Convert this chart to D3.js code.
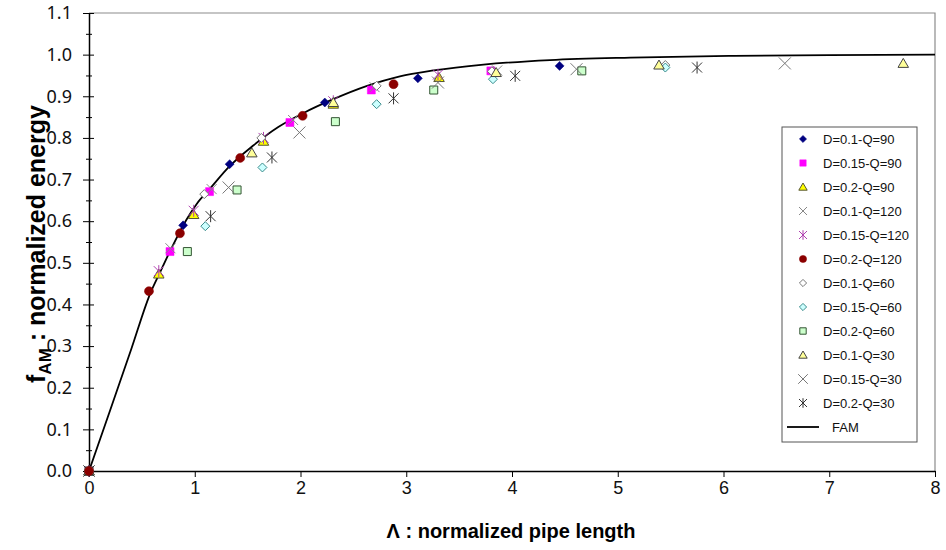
<!DOCTYPE html>
<html>
<head>
<meta charset="utf-8">
<script src="https://cdn.jsdelivr.net/npm/d3@7"></script>
<style>
  body { margin: 0; background: #fff; }
  svg { display: block; }
</style>
</head>
<body>
<script>
// measured points, [lambda, fAM]
var d01q90  = [[0,0],[0.89,0.590],[1.33,0.737],[2.23,0.885],[3.11,0.943],[4.45,0.973]];
var d015q90 = [[0,0],[0.766,0.527],[1.14,0.671],[1.90,0.837],[2.67,0.915],[3.80,0.961]];
var d02q90  = [[0,0],[0.66,0.473],[0.99,0.616],[1.65,0.792],[2.31,0.881],[3.31,0.945]];
var d01q120 = [[0,0],[0.77,0.535],[1.16,0.677],[1.93,0.843],[2.70,0.922],[3.86,0.962]];
var d015q120= [[0,0],[0.66,0.480],[0.99,0.625],[1.65,0.800],[2.31,0.888],[3.30,0.952]];
var d02q120 = [[0,0],[0.567,0.432],[0.86,0.571],[1.43,0.752],[2.02,0.853],[2.88,0.929]];
var d01q60  = [[0,0],[1.09,0.665],[1.63,0.800],[2.72,0.925],[3.81,0.960],[5.45,0.975]];
var d015q60 = [[0,0],[1.10,0.588],[1.64,0.729],[2.72,0.881],[3.82,0.941],[5.45,0.969]];
var d02q60  = [[0,0],[0.93,0.527],[1.40,0.675],[2.33,0.839],[3.26,0.915],[4.66,0.961]];
var d01q30  = [[0,0],[1.54,0.764],[2.31,0.885],[3.85,0.957],[5.39,0.975],[7.70,0.979]];
var d015q30 = [[0,0],[1.32,0.681],[1.99,0.813],[3.30,0.933],[4.61,0.965],[6.58,0.979]];
var d02q30  = [[0,0],[1.15,0.612],[1.73,0.753],[2.88,0.895],[4.03,0.949],[5.75,0.969]];

// FAM model curve
var famCurve = [[0,0],[0.2,0.146],[0.4,0.293],[0.577,0.425],[0.67,0.476],[0.77,0.530],[0.92,0.603],
  [1.02,0.642],[1.14,0.677],[1.33,0.732],[1.55,0.781],[1.79,0.826],[2.03,0.860],[2.31,0.893],
  [2.63,0.925],[2.94,0.948],[3.26,0.962],[3.73,0.976],[4.36,0.987],[5.12,0.993],[6.1,0.997],
  [7.0,0.999],[8.0,1.0]];

var xTicks = [0,1,2,3,4,5,6,7,8];
var yTicks = [0,0.1,0.2,0.3,0.4,0.5,0.6,0.7,0.8,0.9,1.0,1.1];
var yMinor = [0.05,0.15,0.25,0.35,0.45,0.55,0.65,0.75,0.85,0.95,1.05];

var seriesNames = ["D=0.1-Q=90","D=0.15-Q=90","D=0.2-Q=90","D=0.1-Q=120","D=0.15-Q=120","D=0.2-Q=120",
  "D=0.1-Q=60","D=0.15-Q=60","D=0.2-Q=60","D=0.1-Q=30","D=0.15-Q=30","D=0.2-Q=30"];
var seriesData = [d01q90,d015q90,d02q90,d01q120,d015q120,d02q120,d01q60,d015q60,d02q60,d01q30,d015q30,d02q30];
// plotting order (dark red circles end up on top at the origin)
var drawOrder = [0,1,2,3,4,6,7,8,9,10,11,5];

// marker look per series
var markerconf = [
  {shape:"diamond", fill:"#000080", stroke:"#000080", sw:0.5, s:4.5},
  {shape:"square", fill:"#FF00FF", stroke:"#FF00FF", sw:0.5, s:4},
  {shape:"triangle", fill:"#FFFF00", stroke:"#555533", sw:1, s:5},
  {shape:"x", fill:"none", stroke:"#888888", sw:1, s:5},
  {shape:"star", fill:"none", stroke:"#B040B0", sw:1, s:5},
  {shape:"circle", fill:"#8B0000", stroke:"#8B0000", sw:0.5, s:4.5},
  {shape:"diamond", fill:"#FFFFFF", stroke:"#777777", sw:1, s:4.5},
  {shape:"diamond", fill:"#CCFFFF", stroke:"#3C8C8C", sw:1, s:4.5},
  {shape:"square", fill:"#CCFFCC", stroke:"#335533", sw:1, s:4},
  {shape:"triangle", fill:"#FFFF99", stroke:"#444444", sw:1, s:5},
  {shape:"x", fill:"none", stroke:"#777777", sw:1, s:6},
  {shape:"star", fill:"none", stroke:"#333333", sw:1, s:5}
];

var width = 946, height = 550;
var svg = d3.select("body").append("svg").attr("width", width).attr("height", height);

var x = d3.scaleLinear().domain([0,8]).range([89,935]);
var y = d3.scaleLinear().domain([0,1.1]).range([471,13]);

function markerPath(shape, s) {
  if (shape == "diamond") return "M0," + (-s) + "L" + s + ",0L0," + s + "L" + (-s) + ",0Z";
  if (shape == "square") return "M" + (-s) + "," + (-s) + "h" + (2*s) + "v" + (2*s) + "h" + (-2*s) + "Z";
  if (shape == "triangle") return "M0," + (-s) + "L" + (s*1.05) + "," + (s*0.8) + "L" + (-s*1.05) + "," + (s*0.8) + "Z";
  if (shape == "x") return "M" + (-s) + "," + (-s) + "L" + s + "," + s + "M" + s + "," + (-s) + "L" + (-s) + "," + s;
  if (shape == "star") return "M" + (-s) + "," + (-s) + "L" + s + "," + s + "M" + s + "," + (-s) + "L" + (-s) + "," + s + "M0," + (-s*1.2) + "L0," + (s*1.2);
  return "";
}

function drawMarker(g, conf, cx, cy) {
  if (conf.shape == "circle") {
    g.append("circle").attr("cx", cx).attr("cy", cy).attr("r", conf.s)
      .attr("fill", conf.fill).attr("stroke", conf.stroke).attr("stroke-width", conf.sw);
  } else {
    g.append("path").attr("d", markerPath(conf.shape, conf.s))
      .attr("transform", "translate(" + cx + "," + cy + ")")
      .attr("fill", conf.fill).attr("stroke", conf.stroke).attr("stroke-width", conf.sw);
  }
}

// plot area border (top/right gray)
svg.append("path")
  .attr("d", "M" + x(0) + "," + y(1.1) + "H" + x(8) + "V" + y(0))
  .attr("fill", "none").attr("stroke", "#8c8c8c").attr("stroke-width", 1.2);

// FAM curve
var line = d3.line().x(function(d){ return x(d[0]); }).y(function(d){ return y(d[1]); }).curve(d3.curveMonotoneX);
svg.append("path").datum(famCurve).attr("d", line)
  .attr("fill", "none").attr("stroke", "#000").attr("stroke-width", 1.8);

// axes
var yAxis = svg.append("g").attr("transform", "translate(" + x(0) + ",0)")
  .call(d3.axisLeft(y).tickValues(yTicks).tickFormat(d3.format(".1f")).tickSize(6).tickSizeOuter(0).tickPadding(11));
yAxis.selectAll(".tick line").attr("x1", 5).attr("stroke", "#000");
yAxis.selectAll(".tick text").attr("font-family", "'Noto Sans', sans-serif").attr("font-size", 18).attr("fill", "#111");
yAxis.select(".domain").attr("stroke", "#000").attr("stroke-width", 1.5);

var yMinorAxis = svg.append("g").attr("transform", "translate(" + x(0) + ",0)")
  .call(d3.axisLeft(y).tickValues(yMinor).tickFormat("").tickSize(3).tickSizeOuter(0));
yMinorAxis.selectAll(".tick line").attr("x1", 3).attr("stroke", "#000");
yMinorAxis.select(".domain").remove();

var xAxis = svg.append("g").attr("transform", "translate(0," + y(0) + ")")
  .call(d3.axisBottom(x).tickValues(xTicks).tickFormat(d3.format("d")).tickSize(6).tickSizeOuter(0).tickPadding(4));
xAxis.selectAll(".tick line").attr("stroke", "#000");
xAxis.selectAll(".tick text").attr("font-family", "'Liberation Sans Narrow', 'Arial Narrow', sans-serif").attr("font-size", 18).attr("fill", "#111");
xAxis.select(".domain").attr("stroke", "#000").attr("stroke-width", 1.5);

// data points
drawOrder.forEach(function(i) {
  var g = svg.append("g").attr("class", "series");
  seriesData[i].forEach(function(d) {
    drawMarker(g, markerconf[i], x(d[0]), y(d[1]));
  });
});

// axis titles
svg.append("text").attr("x", 511).attr("y", 538).attr("text-anchor", "middle")
  .attr("font-family", "'Liberation Sans Narrow', 'Arial Narrow', sans-serif").attr("font-weight", "bold").attr("font-size", 20)
  .text("\u039B : normalized pipe length");

var yt = svg.append("text").attr("transform", "translate(45,244) rotate(-90)").attr("text-anchor", "middle")
  .attr("font-family", "'Liberation Sans', Arial, sans-serif").attr("font-weight", "bold").attr("font-size", 25);
yt.append("tspan").text("f");
yt.append("tspan").attr("font-size", 17).attr("dy", 6).text("AM");
yt.append("tspan").attr("dy", -6).text(" : normalized energy");

// legend
var legend = svg.append("g");
legend.append("rect").attr("x", 782).attr("y", 127).attr("width", 135).attr("height", 315)
  .attr("fill", "#fff").attr("stroke", "#555").attr("stroke-width", 1);
seriesNames.forEach(function(name, i) {
  var ly = 139 + 24 * i;
  var conf = Object.assign({}, markerconf[i]);
  conf.s = conf.s * 0.8;
  drawMarker(legend, conf, 803, ly);
  legend.append("text").attr("x", 823).attr("y", ly + 5)
    .attr("font-family", "'Liberation Sans', Arial, sans-serif").attr("font-size", 13).attr("fill", "#111")
    .text(name);
});
legend.append("line").attr("x1", 787).attr("x2", 819).attr("y1", 427).attr("y2", 427)
  .attr("stroke", "#000").attr("stroke-width", 1.8);
legend.append("text").attr("x", 832).attr("y", 432)
  .attr("font-family", "'Liberation Sans', Arial, sans-serif").attr("font-size", 13).attr("fill", "#111")
  .text("FAM");
</script>
</body>
</html>
